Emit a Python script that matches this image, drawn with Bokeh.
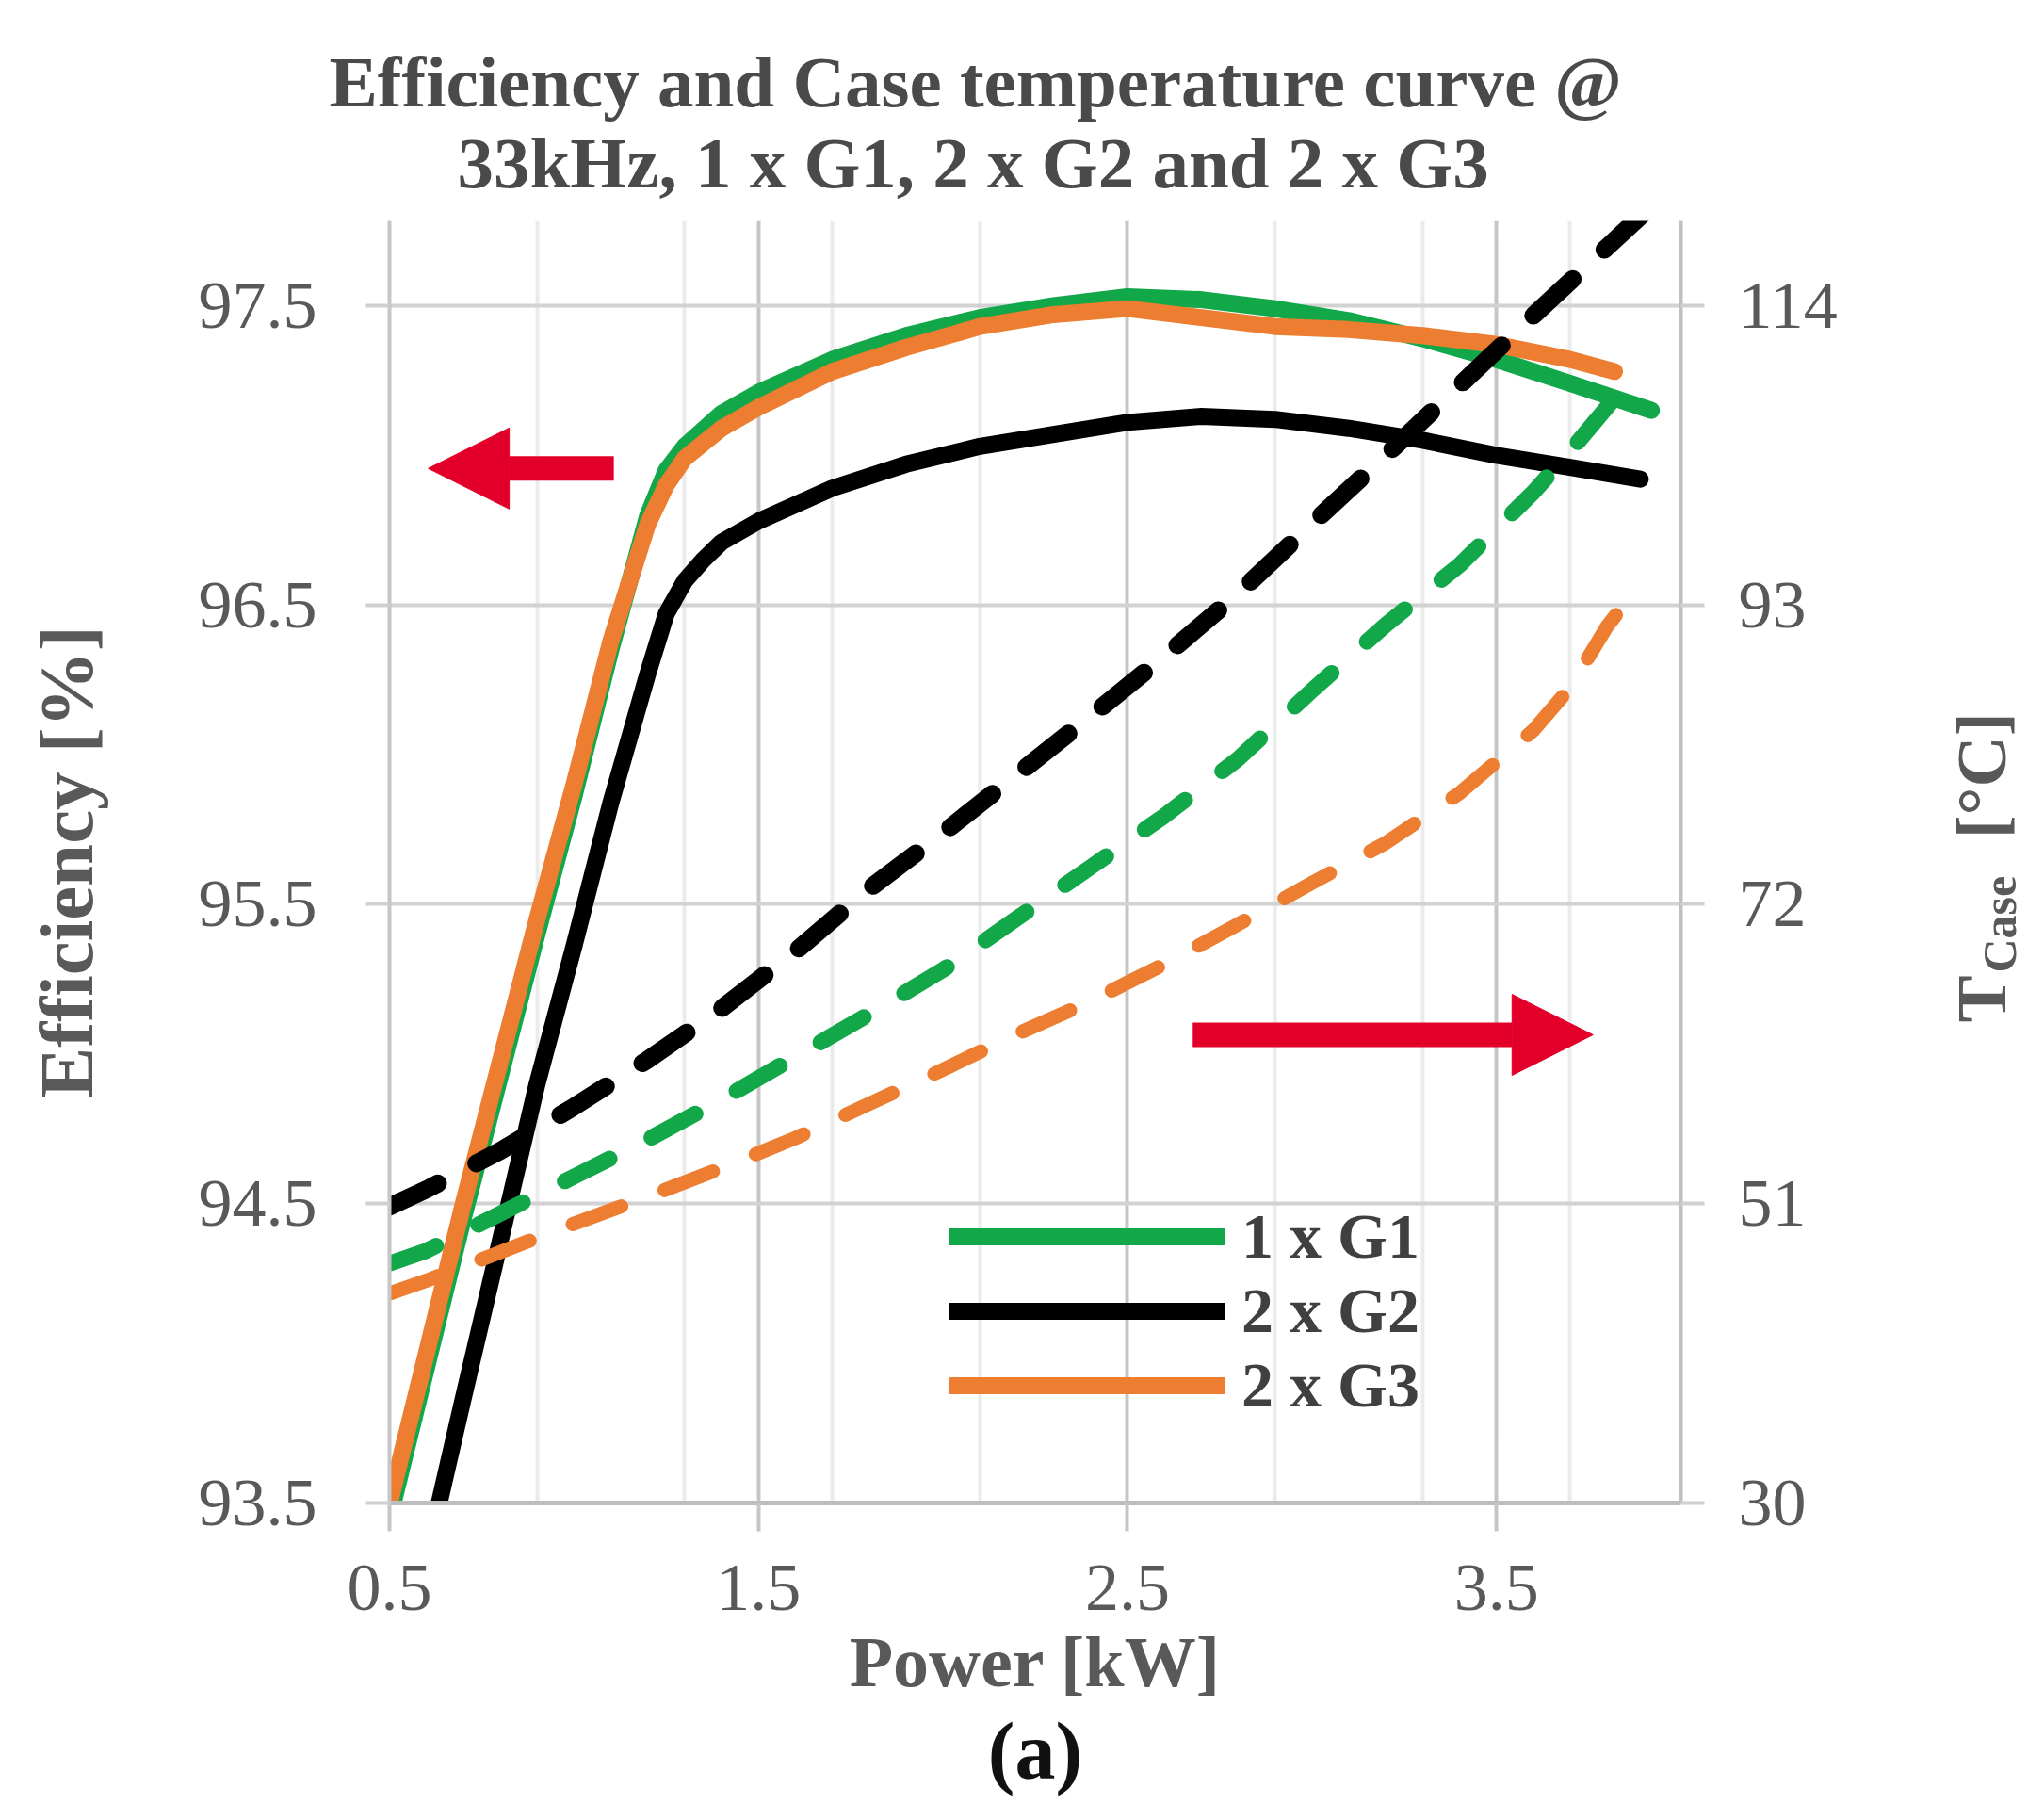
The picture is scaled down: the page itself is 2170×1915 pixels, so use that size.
import math
from bokeh.plotting import figure
from bokeh.models import (Range1d, LinearAxis, FixedTicker, Legend, LegendItem,
                          Title, Arrow, NormalHead)
from bokeh.embed import file_html
from bokeh.resources import INLINE

# ---------------- data ----------------
title_line1 = "Efficiency and Case temperature curve @"
title_line2 = "33kHz, 1 x G1, 2 x G2 and 2 x G3"
x_label = "Power [kW]"
y_label = "Efficiency [%]"
y2_label_parts = {"T": 63.7, "[°C]": 76.6}      # text -> start position on the temperature scale
y2_label_sub = {"Case": 67.2}
panel_label = "(a)"
series_labels = ["1 x G1", "2 x G2", "2 x G3"]

x_ticks = [0.5, 1.5, 2.5, 3.5]
x_minor_ticks = [0.9, 1.3, 1.7, 2.1, 2.9, 3.3, 3.7]
eff_ticks = [93.5, 94.5, 95.5, 96.5, 97.5]
temp_ticks = [30, 51, 72, 93, 114]

# efficiency (solid, left axis)
power_eff_g1 = [0.5, 0.7, 0.9, 1.0, 1.1, 1.2, 1.25, 1.3, 1.4, 1.5, 1.7, 1.9, 2.1, 2.3, 2.5, 2.7, 2.9, 3.1, 3.3, 3.5, 3.7, 3.92]
eff_g1 = [93.45, 94.45, 95.40, 95.86, 96.35, 96.80, 96.95, 97.03, 97.14, 97.21, 97.32, 97.40, 97.46, 97.50, 97.53, 97.52, 97.49, 97.45, 97.39, 97.32, 97.24, 97.15]

power_eff_g2 = [0.5, 0.7, 0.9, 1.0, 1.1, 1.2, 1.25, 1.3, 1.35, 1.4, 1.5, 1.7, 1.9, 2.1, 2.3, 2.5, 2.7, 2.9, 3.1, 3.3, 3.5, 3.7, 3.89]
eff_g2 = [92.78, 93.85, 94.90, 95.36, 95.84, 96.27, 96.47, 96.58, 96.65, 96.71, 96.78, 96.89, 96.97, 97.03, 97.07, 97.11, 97.13, 97.12, 97.09, 97.05, 97.00, 96.96, 96.92]

power_eff_g3 = [0.5, 0.7, 0.9, 1.0, 1.1, 1.2, 1.25, 1.3, 1.4, 1.5, 1.7, 1.9, 2.1, 2.3, 2.5, 2.7, 2.9, 3.1, 3.3, 3.5, 3.7, 3.82]
eff_g3 = [93.50, 94.50, 95.45, 95.90, 96.38, 96.77, 96.90, 96.99, 97.09, 97.16, 97.28, 97.36, 97.43, 97.47, 97.49, 97.46, 97.43, 97.42, 97.40, 97.37, 97.32, 97.28]

# case temperature (dashed, right axis)
power_temp_g1 = [0.5, 0.6, 0.8, 1.0, 1.2, 1.4, 1.6, 1.8, 2.0, 2.2, 2.4, 2.6, 2.8, 3.0, 3.2, 3.4, 3.6, 3.7, 3.82]
temp_g1 = [46.8, 47.7, 50.3, 52.9, 55.5, 58.3, 61.3, 64.3, 67.4, 71.0, 74.6, 78.2, 82.2, 87.0, 91.6, 95.8, 100.9, 103.8, 107.5]

power_temp_g2 = [0.5, 0.6, 0.8, 1.0, 1.2, 1.4, 1.6, 1.8, 2.0, 2.2, 2.4, 2.6, 2.8, 3.0, 3.2, 3.4, 3.6, 3.8, 3.9]
temp_g2 = [50.8, 52.0, 54.7, 57.8, 61.1, 64.7, 68.7, 73.1, 77.0, 81.1, 85.2, 89.4, 93.8, 98.7, 103.5, 108.4, 113.3, 118.1, 120.5]

power_temp_g3 = [0.5, 0.6, 0.8, 1.0, 1.2, 1.4, 1.6, 1.8, 2.0, 2.2, 2.4, 2.6, 2.8, 3.0, 3.2, 3.4, 3.6, 3.7, 3.8, 3.83]
temp_g3 = [44.7, 45.6, 47.6, 49.6, 51.5, 53.5, 55.6, 58.0, 60.4, 62.9, 65.2, 67.8, 70.6, 73.5, 76.3, 79.8, 84.2, 87.2, 91.5, 92.5]

# axis ranges
x_range = (0.5, 4.0)
eff_range = (93.5, 97.783)
temp_per_eff = 21.0
temp_range = (30.0, 30.0 + (eff_range[1] - eff_range[0]) * temp_per_eff)

# ---------------- style ----------------
SERIF = "Liberation Serif"
GREEN = "#12a84a"
BLACK = "#000000"
ORANGE = "#ed7d31"
RED = "#e2002b"
TXT = "#595959"
TITLE_C = "#4a4a4a"

p = figure(frame_width=1371, frame_height=1361,
           x_range=Range1d(*x_range), y_range=Range1d(*eff_range),
           output_backend="svg", toolbar_location=None,
           title=title_line1,
           min_border_left=413, min_border_top=234, min_border_right=370, min_border_bottom=290,
           background_fill_color="white", border_fill_color="white",
           outline_line_color=None)

p.extra_y_ranges = {"temp": Range1d(*temp_range)}

# titles (first line outermost)
p.title.align = "left"
p.title.offset = -64
p.title.text_font = SERIF
p.title.text_font_size = "77px"
p.title.text_font_style = "bold"
p.title.text_color = TITLE_C
p.title.standoff = -42
t2 = Title(text=title_line2, align="left", offset=72, text_font=SERIF,
           text_font_size="77px", text_font_style="bold", text_color=TITLE_C, standoff=38)
p.add_layout(t2, "above")

# x axis
xa = p.xaxis[0]
xa.ticker = FixedTicker(ticks=x_ticks, minor_ticks=x_minor_ticks)
xa.axis_label = x_label
xa.axis_label_text_font = SERIF
xa.axis_label_text_font_size = "76px"
xa.axis_label_text_font_style = "bold"
xa.axis_label_text_color = TXT
xa.axis_label_standoff = 10
xa.major_label_text_font = SERIF
xa.major_label_text_font_size = "72px"
xa.major_label_text_color = TXT
xa.major_label_standoff = 36
xa.axis_line_color = "#bdbdbd"
xa.axis_line_width = 5
xa.major_tick_line_color = "#c6c6c6"
xa.major_tick_line_width = 4
xa.major_tick_out = 30
xa.major_tick_in = 0
xa.minor_tick_line_color = None

# left axis
ya = p.yaxis[0]
ya.ticker = FixedTicker(ticks=eff_ticks)
ya.axis_label = y_label
ya.axis_label_text_font = SERIF
ya.axis_label_text_font_size = "81px"
ya.axis_label_text_font_style = "bold"
ya.axis_label_text_color = TXT
ya.axis_label_standoff = 92
ya.major_label_text_font = SERIF
ya.major_label_text_font_size = "72px"
ya.major_label_text_color = TXT
ya.major_label_standoff = 52
ya.axis_line_color = "#c6c6c6"
ya.axis_line_width = 4
ya.major_tick_line_color = "#d0d0d0"
ya.major_tick_line_width = 4
ya.major_tick_out = 25
ya.major_tick_in = 0
ya.minor_tick_line_color = None

# right axis (temperature ticks)
ra = LinearAxis(y_range_name="temp", ticker=FixedTicker(ticks=temp_ticks))
ra.major_label_text_font = SERIF
ra.major_label_text_font_size = "72px"
ra.major_label_text_color = TXT
ra.major_label_standoff = 36
ra.axis_line_color = "#c0c0c0"
ra.axis_line_width = 4
ra.major_tick_line_color = "#d0d0d0"
ra.major_tick_line_width = 4
ra.major_tick_out = 25
ra.major_tick_in = 0
ra.minor_tick_line_color = None
p.add_layout(ra, "right")


def text_axis(parts, size, standoff):
    """Invisible axis whose only content is rotated text placed at given positions."""
    pos = list(parts.values())
    ax = LinearAxis(y_range_name="temp", ticker=FixedTicker(ticks=pos))
    ax.major_label_overrides = {v: k for k, v in parts.items()}
    ax.major_label_orientation = math.pi / 2
    ax.axis_line_color = None
    ax.major_tick_line_color = None
    ax.minor_tick_line_color = None
    ax.major_tick_out = 0
    ax.major_tick_in = 0
    ax.major_label_standoff = standoff
    ax.major_label_text_font = SERIF
    ax.major_label_text_font_size = size
    ax.major_label_text_font_style = "bold"
    ax.major_label_text_color = TXT
    return ax


# right axis title "T_Case [°C]", read bottom-to-top, subscript shifted outward
p.add_layout(text_axis(y2_label_parts, "75px", 150), "right")
p.add_layout(text_axis(y2_label_sub, "50px", -66), "right")

# grids
p.xgrid.grid_line_color = "#c6c6c6"
p.xgrid.grid_line_width = 4
p.xgrid.minor_grid_line_color = "#ebebeb"
p.xgrid.minor_grid_line_width = 4
p.ygrid.grid_line_color = "#d2d2d2"
p.ygrid.grid_line_width = 4

# ---------------- series ----------------
solid = dict(line_width=18, line_cap="round", line_join="round")
r_g1 = p.line(power_eff_g1, eff_g1, line_color=GREEN, **solid)
r_g2 = p.line(power_eff_g2, eff_g2, line_color=BLACK, **solid)
r_g3 = p.line(power_eff_g3, eff_g3, line_color=ORANGE, **solid)

p.line(power_temp_g1, temp_g1, y_range_name="temp", line_color=GREEN, line_width=17,
       line_dash="53 50", line_cap="round", line_join="round")
p.line(power_temp_g2, temp_g2, y_range_name="temp", line_color=BLACK, line_width=19,
       line_dash="57 46", line_cap="round", line_join="round")
p.line(power_temp_g3, temp_g3, y_range_name="temp", line_color=ORANGE, line_width=15,
       line_dash="55 49", line_cap="round", line_join="round")

# legend
legend = Legend(items=[LegendItem(label=series_labels[0], renderers=[r_g1]),
                       LegendItem(label=series_labels[1], renderers=[r_g2]),
                       LegendItem(label=series_labels[2], renderers=[r_g3])],
                location=(594, 85), orientation="vertical",
                glyph_width=293, glyph_height=79, label_height=79, label_standoff=18,
                spacing=0, padding=0, margin=0,
                border_line_color=None, background_fill_alpha=0,
                label_text_font=SERIF, label_text_font_size="68px",
                label_text_font_style="bold", label_text_color="#404040")
p.add_layout(legend)

# red arrows (which axis the curves belong to)
left_arrow = dict(x_tail=1.108, x_tip=0.605, y=96.956)
right_arrow = dict(x_tail=2.677, x_tip=3.762, y=95.064)
for a in (left_arrow, right_arrow):
    p.add_layout(Arrow(x_start=a["x_tail"], y_start=a["y"], x_end=a["x_tip"], y_end=a["y"],
                       line_color=RED, line_width=26,
                       end=NormalHead(size=86, fill_color=RED, line_color=RED, line_width=1)))

# panel label below
p.add_layout(Title(text=panel_label, align="center", text_font=SERIF, text_font_size="86px",
                   text_font_style="bold", text_color="#111111", standoff=0), "below")

open("out.html", "w").write(file_html(p, INLINE))
